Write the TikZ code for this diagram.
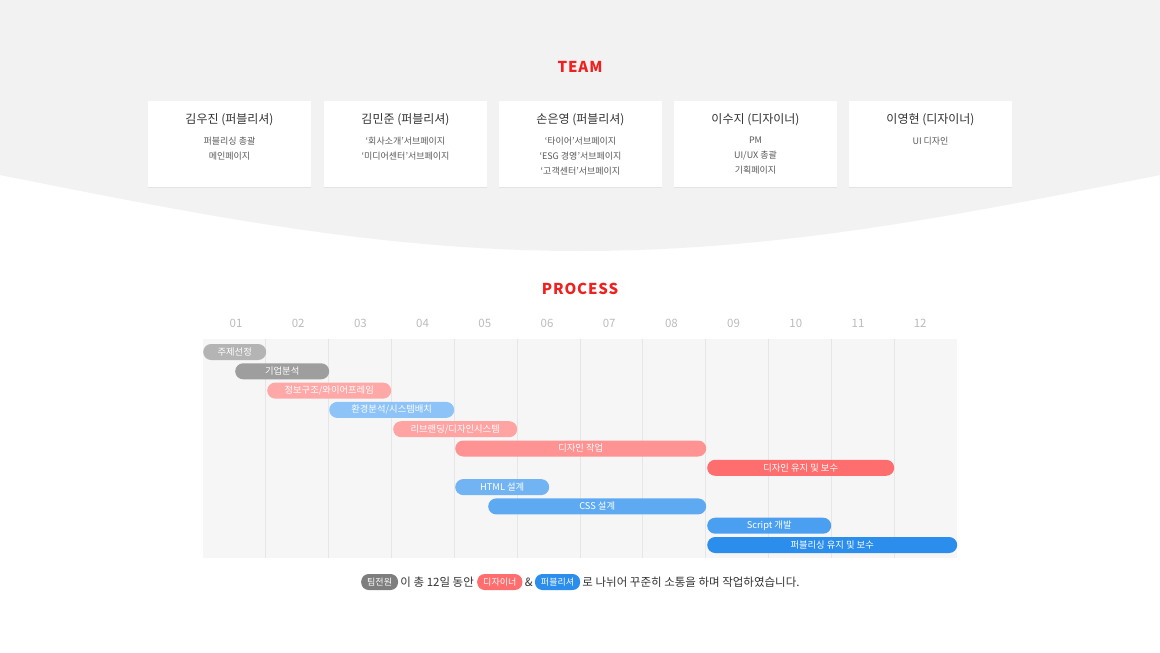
\documentclass[tikz,border=0pt]{standalone}
\usepackage{fontspec}
\setmainfont{Noto Sans CJK KR}
\usetikzlibrary{positioning,shadows}
\definecolor{bggray}{HTML}{F2F2F2}
\definecolor{titlered}{HTML}{F0201E}
\definecolor{gridbg}{HTML}{F6F6F6}
\definecolor{gridline}{HTML}{E6E6E6}
\definecolor{monthgray}{HTML}{BBBBBB}
\definecolor{grayA}{HTML}{B4B4B4}
\definecolor{grayB}{HTML}{9E9E9E}
\definecolor{pinkA}{HTML}{FFA8A8}
\definecolor{pinkB}{HTML}{FFA3A3}
\definecolor{pinkC}{HTML}{FF9292}
\definecolor{redA}{HTML}{FF6E6E}
\definecolor{blueA}{HTML}{8EC3F7}
\definecolor{blueB}{HTML}{72B4F3}
\definecolor{blueC}{HTML}{5EAAF2}
\definecolor{blueD}{HTML}{4A9FF0}
\definecolor{blueE}{HTML}{2B8EEC}
\definecolor{pillgray}{HTML}{7E7E7E}
\tikzset{
  sectitle/.style={text=titlered,font=\fontsize{15}{17}\selectfont\bfseries\addfontfeatures{LetterSpace=6}},
  card/.style={fill=white,minimum width=163,minimum height=86,inner sep=0,
    drop shadow={shadow xshift=0pt,shadow yshift=-1pt,opacity=0.06,fill=black}},
  cardname/.style={anchor=base,text=black!80,font=\fontsize{12}{14}\selectfont},
  cardsub/.style={anchor=north,align=center,inner sep=0,text=black!65,font=\fontsize{9}{15}\selectfont},
  month/.style={text=monthgray,font=\fontsize{11.5}{13}\selectfont},
  bar/.style={anchor=west,rounded corners=8pt,minimum height=16,inner sep=0,
    text=white,font=\fontsize{9.3}{11}\selectfont},
  pill/.style={rounded corners=7.5pt,minimum height=16,inner xsep=6pt,inner ysep=0,
    text=white,font=\fontsize{9}{11}\selectfont},
  note/.style={inner sep=2pt,text=black!80,font=\fontsize{11.5}{13}\selectfont}
}
\begin{document}
\begin{tikzpicture}[x=1pt,y=-1pt]
\useasboundingbox (0,0) rectangle (1160,653);
\fill[bggray] (0,0) -- (1160,0) -- (1160,175)
  .. controls (960,215) and (780,251) .. (580,251)
  .. controls (380,251) and (200,215) .. (0,175) -- cycle;
% team
\node[sectitle] (team) at (580,67) {TEAM};
\node[card] (card1) at (229.5,144) {};
\node[card] (card2) at (405.5,144) {};
\node[card] (card3) at (580.5,144) {};
\node[card] (card4) at (755.5,144) {};
\node[card] (card5) at (930.5,144) {};
\node[cardname] (name1) at (229.5,123) {김우진 (퍼블리셔)};
\node[cardname] (name2) at (405.5,123) {김민준 (퍼블리셔)};
\node[cardname] (name3) at (580.5,123) {손은영 (퍼블리셔)};
\node[cardname] (name4) at (755.5,123) {이수지 (디자이너)};
\node[cardname] (name5) at (930.5,123) {이영현 (디자이너)};
\node[cardsub] (sub1) at (229.5,137) {퍼블리싱 총괄\\메인페이지};
\node[cardsub] (sub2) at (405.5,137) {‘회사소개’서브페이지\\‘미디어센터’서브페이지};
\node[cardsub] (sub3) at (580.5,137) {‘타이어’서브페이지\\‘ESG 경영’서브페이지\\‘고객센터’서브페이지};
\node[cardsub] (sub4) at (755.5,137) {PM\\UI/UX 총괄\\기획페이지};
\node[cardsub] (sub5) at (930.5,137) {UI 디자인};
% process
\node[sectitle] (process) at (580,289) {PROCESS};
\fill[gridbg] (203,339) rectangle (957,558);
\foreach \k in {1,...,11}
  \draw[gridline,line width=0.8pt] (203+62.83*\k,339) -- (203+62.83*\k,558);
\foreach \m [count=\k from 0] in {01,02,03,04,05,06,07,08,09,10,11,12}
  \node[month] (m\m) at (236+62.2*\k,323.5) {\m};
\node[bar,fill=grayA,minimum width=63] (b1) at (203,352) {주제선정};
\node[bar,fill=grayB,minimum width=94] (b2) at (235,371.3) {기업분석};
\node[bar,fill=pinkA,minimum width=124] (b3) at (267,390.6) {정보구조/와이어프레임};
\node[bar,fill=blueA,minimum width=125] (b4) at (329,409.9) {환경분석/시스템배치};
\node[bar,fill=pinkB,minimum width=124] (b5) at (393,429.2) {리브랜딩/디자인시스템};
\node[bar,fill=pinkC,minimum width=251] (b6) at (455,448.5) {디자인 작업};
\node[bar,fill=redA,minimum width=187] (b7) at (707,467.8) {디자인 유지 및 보수};
\node[bar,fill=blueB,minimum width=94] (b8) at (455,487.1) {HTML 설계};
\node[bar,fill=blueC,minimum width=218] (b9) at (488,506.4) {CSS 설계};
\node[bar,fill=blueD,minimum width=124] (b10) at (707,525.7) {Script 개발};
\node[bar,fill=blueE,minimum width=250] (b11) at (707,545) {퍼블리싱 유지 및 보수};
% summary line
\node[pill,fill=pillgray,anchor=west] (all) at (361,582) {팀전원};
\node[note,right=0pt of all] (txt1) {이 총 12일 동안};
\node[pill,fill=redA,right=1pt of txt1] (des) {디자이너};
\node[note,right=0pt of des] (amp) {\&};
\node[pill,fill=blueE,right=0pt of amp] (pub) {퍼블리셔};
\node[note,right=0pt of pub] (txt2) {로 나뉘어 꾸준히 소통을 하며 작업하였습니다.};
\end{tikzpicture}
\end{document}
